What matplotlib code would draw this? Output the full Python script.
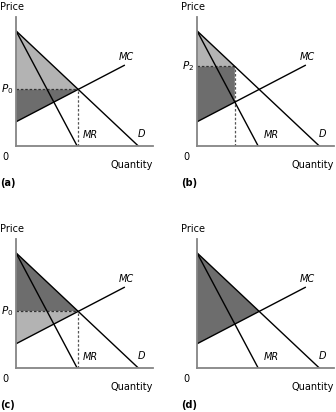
import matplotlib
matplotlib.use("Agg")
import matplotlib.pyplot as plt
import numpy as np

# curve end points (quantity, price)
demand_q = [0, 10]
demand_p = [10, 0]
mr_q = [0, 5]
mr_p = [10, 0]
mc_q = [0, 8.85]
mc_p = [2.1, 7.0]

panels = ["(a)", "(b)", "(c)", "(d)"]
price_labels = ["$P_0$", "$P_2$", "$P_0$", None]

LIGHT = "#b3b3b3"
DARK = "#6d6d6d"
AXC = "#858585"
FS = 7.0


def line_at(qs, ps, q):
    return ps[0] + (ps[1] - ps[0]) / (qs[1] - qs[0]) * (q - qs[0])


def crossing(q1, p1, q2, p2):
    s1 = (p1[1] - p1[0]) / (q1[1] - q1[0])
    s2 = (p2[1] - p2[0]) / (q2[1] - q2[0])
    q = (p2[0] - p1[0]) / (s1 - s2)
    return q, p1[0] + s1 * q


# competitive and monopoly outcomes
qc, pc = crossing(demand_q, demand_p, mc_q, mc_p)
qm, _ = crossing(mr_q, mr_p, mc_q, mc_p)
pm = line_at(demand_q, demand_p, qm)
mcm = line_at(mc_q, mc_p, qm)

fig = plt.figure(figsize=(3.36, 4.12), dpi=100)
W, H = 336, 412
origins = [(16, 146), (197, 146), (16, 368), (197, 368)]
xmax, ymax = 11.2, 11.2

for i, (ox, oy) in enumerate(origins):
    ax = fig.add_axes([ox / W, (H - oy) / H, 137 / W, 129 / H])
    ax.set_xlim(0, xmax)
    ax.set_ylim(0, ymax)
    ax.axis("off")
    ax.plot([0, xmax], [0, 0], color=AXC, lw=1.3, clip_on=False, zorder=5)
    ax.plot([0, 0], [0, ymax], color=AXC, lw=1.3, clip_on=False, zorder=5)

    cs_eq = [(0, demand_p[0]), (qc, pc), (0, pc)]
    ps_eq = [(0, pc), (qc, pc), (0, mc_p[0])]
    if i == 0:
        ax.add_patch(plt.Polygon(cs_eq, color=LIGHT, lw=0))
        ax.add_patch(plt.Polygon(ps_eq, color=DARK, lw=0))
    elif i == 1:
        ax.add_patch(plt.Polygon([(0, demand_p[0]), (qm, pm), (0, pm)], color=LIGHT, lw=0))
        ax.add_patch(plt.Polygon([(0, pm), (qm, pm), (qm, mcm), (0, mc_p[0])], color=DARK, lw=0))
    elif i == 2:
        ax.add_patch(plt.Polygon(cs_eq, color=DARK, lw=0))
        ax.add_patch(plt.Polygon(ps_eq, color=LIGHT, lw=0))
    else:
        ax.add_patch(plt.Polygon([(0, demand_p[0]), (qc, pc), (0, mc_p[0])], color=DARK, lw=0))

    if i in (0, 2):
        ax.plot([0, qc], [pc, pc], color="#333333", lw=0.9, ls=(0, (2, 1.5)))
        ax.plot([qc, qc], [0, pc], color="#555555", lw=0.9, ls=(0, (2, 1.5)))
    elif i == 1:
        ax.plot([0, qm], [pm, pm], color="#333333", lw=0.9, ls=(0, (2, 1.5)))
        ax.plot([qm, qm], [0, pm], color="#555555", lw=0.9, ls=(0, (2, 1.5)))

    ax.plot(demand_q, demand_p, color="black", lw=1.0)
    ax.plot(mr_q, mr_p, color="black", lw=1.0)
    ax.plot(mc_q, mc_p, color="black", lw=1.0)

    ax.text(9.0, 7.7, "MC", style="italic", fontsize=FS, ha="center", va="center")
    ax.text(5.45, 0.95, "MR", style="italic", fontsize=FS, ha="left", va="center")
    ax.text(10.25, 1.05, "D", style="italic", fontsize=FS, ha="center", va="center")
    ax.text(-1.31, 12.1, "Price", fontsize=FS, ha="left", va="center", clip_on=False)
    ax.text(-0.9, -0.95, "0", fontsize=FS, ha="center", va="center", clip_on=False)
    ax.text(xmax, -1.65, "Quantity", fontsize=FS, ha="right", va="center", clip_on=False)
    ax.text(-1.31, -3.2, panels[i], fontsize=FS, fontweight="bold", ha="left", va="center", clip_on=False)
    if price_labels[i]:
        py = pm if i == 1 else pc
        ax.text(-1.25, py, price_labels[i], fontsize=FS + 0.5, ha="left", va="center", clip_on=False)

fig.savefig("out.png", dpi=100)
